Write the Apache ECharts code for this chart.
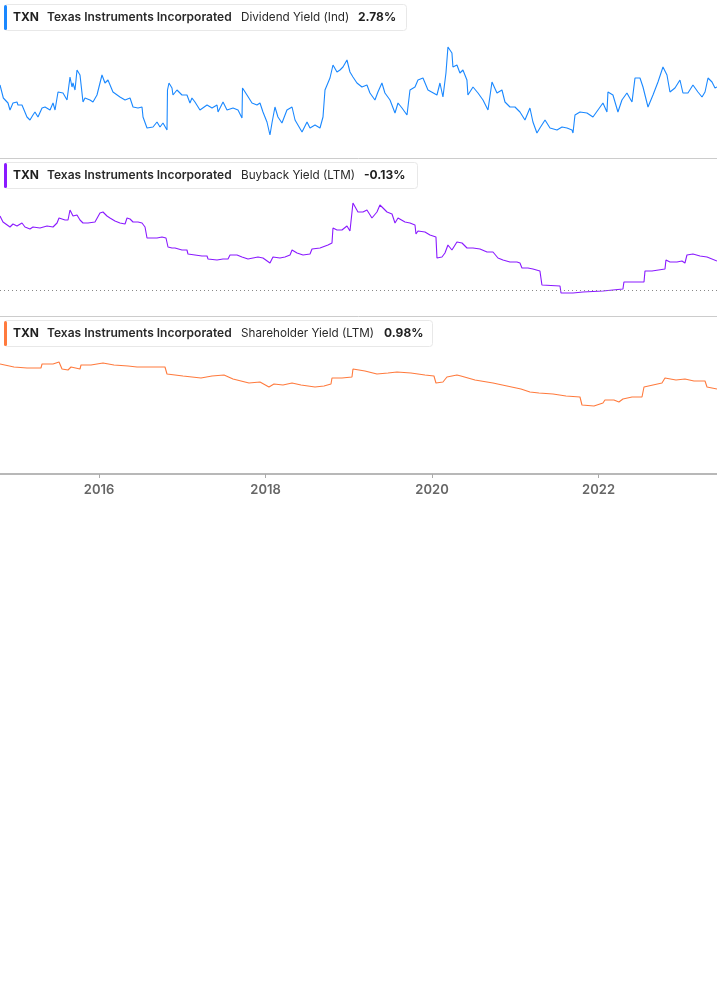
<!DOCTYPE html>
<html>
<head>
<meta charset="utf-8">
<script src="https://cdn.jsdelivr.net/npm/echarts@6/dist/echarts.min.js"></script>
<style>
html,body{margin:0;padding:0;background:#fff;}
#chart{width:717px;height:1005px;}
</style>
</head>
<body>
<div id="chart"></div>
<script>
// Decimal-year x values, yield (%) values
const tickYears = [2016, 2018, 2020, 2022];

const dividendYield = [
[2014.810,3.10],[2014.850,2.84],[2014.906,2.74],[2014.930,2.60],[2014.966,2.74],[2015.014,2.76],[2015.026,2.70],[2015.074,2.70],
[2015.134,2.46],[2015.170,2.40],[2015.206,2.50],[2015.230,2.56],[2015.266,2.46],[2015.315,2.64],[2015.351,2.66],[2015.411,2.60],
[2015.447,2.74],[2015.471,2.60],[2015.507,2.96],[2015.567,2.94],[2015.615,2.80],[2015.651,3.26],[2015.675,3.06],[2015.687,3.14],
[2015.711,3.00],[2015.735,3.40],[2015.771,3.30],[2015.807,2.76],[2015.831,2.84],[2015.891,2.80],[2015.927,2.76],[2015.975,2.90],
[2015.999,2.86],[2016.035,3.30],[2016.071,3.14],[2016.107,3.20],[2016.167,2.96],[2016.251,2.86],[2016.312,2.80],[2016.372,2.84],
[2016.408,2.66],[2016.468,2.64],[2016.516,2.66],[2016.528,2.46],[2016.576,2.24],[2016.648,2.26],[2016.696,2.36],[2016.732,2.26],
[2016.768,2.34],[2016.816,2.20],[2016.822,3.00],[2016.840,3.14],[2016.876,3.04],[2016.888,2.90],[2016.936,3.00],[2016.996,2.90],
[2017.056,2.90],[2017.092,2.74],[2017.116,2.84],[2017.152,2.76],[2017.212,2.60],[2017.297,2.70],[2017.357,2.64],[2017.417,2.70],
[2017.429,2.56],[2017.489,2.76],[2017.537,2.60],[2017.609,2.64],[2017.669,2.60],[2017.717,2.44],[2017.723,3.04],[2017.777,2.90],
[2017.837,2.74],[2017.897,2.70],[2017.933,2.74],[2017.969,2.56],[2018.017,2.36],[2018.053,2.10],[2018.077,2.34],[2018.113,2.66],
[2018.149,2.46],[2018.197,2.34],[2018.257,2.60],[2018.318,2.66],[2018.354,2.40],[2018.438,2.16],[2018.498,2.36],[2018.534,2.24],
[2018.594,2.30],[2018.654,2.24],[2018.690,2.46],[2018.714,3.00],[2018.774,3.24],[2018.810,3.50],[2018.858,3.36],[2018.894,3.40],
[2018.930,3.46],[2018.978,3.60],[2019.014,3.36],[2019.050,3.26],[2019.098,3.14],[2019.158,3.06],[2019.218,3.10],[2019.254,2.94],
[2019.314,2.80],[2019.350,2.96],[2019.398,3.14],[2019.434,2.94],[2019.495,2.80],[2019.555,2.54],[2019.591,2.74],[2019.639,2.64],
[2019.699,2.50],[2019.735,3.00],[2019.795,3.06],[2019.831,3.20],[2019.891,3.24],[2019.951,3.00],[2020.059,2.90],[2020.095,3.14],
[2020.131,2.86],[2020.167,3.34],[2020.191,3.86],[2020.239,3.74],[2020.251,3.46],[2020.299,3.50],[2020.335,3.34],[2020.371,3.40],
[2020.419,3.20],[2020.431,2.90],[2020.492,3.06],[2020.552,2.94],[2020.612,2.80],[2020.672,2.60],[2020.720,3.16],[2020.780,2.94],
[2020.840,3.00],[2020.876,2.76],[2020.936,2.66],[2020.996,2.66],[2021.056,2.56],[2021.116,2.40],[2021.176,2.64],[2021.212,2.36],
[2021.260,2.14],[2021.296,2.24],[2021.357,2.40],[2021.417,2.24],[2021.501,2.20],[2021.561,2.26],[2021.621,2.24],[2021.681,2.20],
[2021.693,2.14],[2021.717,2.50],[2021.777,2.56],[2021.861,2.54],[2021.933,2.46],[2021.993,2.60],[2022.053,2.74],[2022.101,2.56],
[2022.113,2.96],[2022.173,2.90],[2022.233,2.56],[2022.281,2.80],[2022.341,2.94],[2022.402,2.76],[2022.438,3.24],[2022.498,3.24],
[2022.534,3.06],[2022.594,2.66],[2022.654,2.90],[2022.714,3.16],[2022.774,3.46],[2022.822,3.30],[2022.858,2.96],[2022.918,3.04],
[2022.978,3.20],[2023.014,2.94],[2023.074,2.94],[2023.134,3.10],[2023.194,2.96],[2023.243,2.86],[2023.279,2.96],[2023.315,3.24],
[2023.363,3.16],[2023.399,3.04],[2023.423,3.06]
];

const buybackYield = [
[2014.810,3.70],[2014.846,3.40],[2014.930,3.15],[2014.966,3.30],[2015.014,3.20],[2015.074,3.35],[2015.110,3.15],[2015.170,3.05],
[2015.206,3.15],[2015.290,3.10],[2015.375,3.20],[2015.447,3.15],[2015.495,3.35],[2015.519,3.60],[2015.591,3.50],[2015.627,3.50],
[2015.651,4.00],[2015.687,3.70],[2015.735,3.75],[2015.771,3.50],[2015.807,3.35],[2015.867,3.35],[2015.951,3.40],[2016.011,3.85],
[2016.047,3.90],[2016.095,3.70],[2016.131,3.60],[2016.191,3.45],[2016.251,3.35],[2016.312,3.30],[2016.336,3.60],[2016.372,3.55],
[2016.408,3.40],[2016.468,3.40],[2016.516,3.35],[2016.552,3.15],[2016.576,2.60],[2016.696,2.60],[2016.756,2.65],[2016.804,2.60],
[2016.828,2.15],[2016.876,2.10],[2016.912,2.10],[2016.996,2.00],[2017.056,2.00],[2017.068,1.80],[2017.152,1.75],[2017.236,1.70],
[2017.297,1.70],[2017.309,1.55],[2017.417,1.50],[2017.489,1.55],[2017.549,1.55],[2017.573,1.75],[2017.657,1.75],[2017.717,1.65],
[2017.789,1.55],[2017.813,1.65],[2017.909,1.65],[2017.969,1.60],[2018.053,1.35],[2018.089,1.65],[2018.173,1.60],[2018.233,1.65],
[2018.294,1.75],[2018.318,2.00],[2018.378,1.85],[2018.450,1.75],[2018.534,1.80],[2018.558,2.05],[2018.654,2.10],[2018.750,2.25],
[2018.798,2.35],[2018.810,3.10],[2018.858,3.00],[2018.918,3.00],[2018.978,3.20],[2019.014,2.95],[2019.038,2.90],[2019.050,4.35],
[2019.110,3.90],[2019.170,3.90],[2019.218,4.00],[2019.278,3.60],[2019.338,3.90],[2019.374,4.25],[2019.411,4.10],[2019.459,3.90],
[2019.519,3.80],[2019.555,3.35],[2019.591,3.60],[2019.675,3.40],[2019.735,3.35],[2019.795,3.25],[2019.807,2.80],[2019.831,2.95],
[2019.915,2.90],[2019.975,2.75],[2020.047,2.65],[2020.059,1.60],[2020.119,1.65],[2020.155,1.85],[2020.191,2.25],[2020.239,2.00],
[2020.251,1.90],[2020.299,2.40],[2020.360,2.35],[2020.420,2.10],[2020.492,2.10],[2020.576,2.05],[2020.660,1.90],[2020.732,1.90],
[2020.792,1.60],[2020.852,1.50],[2020.936,1.40],[2021.020,1.40],[2021.056,1.35],[2021.080,1.10],[2021.152,1.10],[2021.212,1.05],
[2021.296,0.95],[2021.320,0.25],[2021.537,0.20],[2021.549,-0.15],[2021.693,-0.15],[2021.813,-0.10],[2022.053,-0.05],[2022.065,0.05],
[2022.293,0.05],[2022.305,0.40],[2022.546,0.40],[2022.558,0.95],[2022.642,0.95],[2022.798,1.05],[2022.810,1.50],[2022.858,1.40],
[2022.942,1.40],[2023.002,1.45],[2023.038,1.35],[2023.062,1.75],[2023.134,1.80],[2023.219,1.70],[2023.303,1.65],[2023.315,1.55],
[2023.423,1.45]
];

const shareholderYield = [
[2014.810,5.50],[2014.978,5.35],[2015.134,5.30],[2015.302,5.30],[2015.315,5.50],[2015.447,5.50],[2015.519,5.60],[2015.555,5.25],
[2015.627,5.20],[2015.663,5.35],[2015.771,5.25],[2015.783,5.45],[2015.903,5.45],[2016.047,5.55],[2016.179,5.45],[2016.348,5.40],
[2016.456,5.35],[2016.564,5.35],[2016.708,5.35],[2016.792,5.35],[2016.816,5.00],[2017.008,4.90],[2017.224,4.80],[2017.357,4.90],
[2017.501,4.95],[2017.609,4.75],[2017.801,4.55],[2017.933,4.60],[2018.041,4.35],[2018.101,4.50],[2018.209,4.45],[2018.318,4.55],
[2018.426,4.45],[2018.594,4.35],[2018.702,4.40],[2018.786,4.50],[2018.798,4.80],[2018.918,4.80],[2019.038,4.85],[2019.050,5.25],
[2019.194,5.15],[2019.338,5.00],[2019.471,5.05],[2019.579,5.10],[2019.747,5.05],[2019.915,4.95],[2020.023,4.90],[2020.047,4.55],
[2020.131,4.60],[2020.179,4.85],[2020.239,4.90],[2020.299,4.95],[2020.347,4.90],[2020.516,4.70],[2020.732,4.55],[2020.900,4.40],
[2021.068,4.25],[2021.176,4.10],[2021.284,4.05],[2021.453,4.00],[2021.609,3.90],[2021.777,3.85],[2021.801,3.45],[2021.945,3.40],
[2022.053,3.55],[2022.077,3.70],[2022.185,3.70],[2022.245,3.60],[2022.293,3.75],[2022.402,3.85],[2022.522,3.85],[2022.546,4.35],
[2022.654,4.45],[2022.762,4.55],[2022.798,4.80],[2022.930,4.70],[2023.038,4.75],[2023.146,4.65],[2023.279,4.65],[2023.303,4.35],
[2023.423,4.25]
];

const ticker = 'TXN';
const company = 'Texas Instruments Incorporated';
const metricNames = ['Dividend Yield (Ind)', 'Buyback Yield (LTM)', 'Shareholder Yield (LTM)'];
const metricValues = ['2.78%', '-0.13%', '0.98%'];
const colors = ['#1a88ff', '#8a1aff', '#ff7a3d'];

const FONT = 'Inter, Roboto, "Noto Sans", sans-serif';
const X_MIN = 2014.81, X_MAX = 2023.423;

const chart = echarts.init(document.getElementById('chart'), null, {renderer: 'canvas'});

function legendBox(top, width, idx, valueX) {
  const cy = top + 13;
  const txt = (x, s, w, c, fs) => ({type: 'text', x: x, y: cy, silent: true,
    style: {text: s, font: w + ' ' + (fs || 12) + 'px ' + FONT, fill: c || '#1f1f1f', textVerticalAlign: 'middle', textBaseline: 'middle'}});
  return [
    {type: 'rect', shape: {x: 4.5, y: top + 0.5, width: width, height: 26, r: 3}, silent: true,
      style: {fill: '#fff', stroke: '#e8e8e8', lineWidth: 1}},
    {type: 'rect', shape: {x: 4, y: top + 1, width: 3, height: 25, r: 1.5}, silent: true, style: {fill: colors[idx]}},
    txt(13, ticker, '700'),
    txt(47, company, '600', '#2a2a2a'),
    txt(241, metricNames[idx], '400', '#2a2a2a', 11.7),
    txt(valueX, metricValues[idx], '700')
  ];
}

const grids = [
  {left: 0, right: 0, top: 30, height: 128},
  {left: 0, right: 0, top: 190, height: 126},
  {left: 0, right: 0, top: 348, height: 126}
];

const xAxes = grids.map((g, i) => ({
  type: 'value', gridIndex: i, min: X_MIN, max: X_MAX,
  axisLine: {show: true, onZero: false, lineStyle: {color: i === 2 ? '#b8b8b8' : '#cccccc', width: i === 2 ? 2 : 1}},
  axisTick: i === 2 ? {show: true, customValues: tickYears, length: 4, lineStyle: {color: '#aaaaaa', width: 1}} : {show: false},
  axisLabel: i === 2 ? {show: true, customValues: tickYears, formatter: v => String(Math.round(v)),
    color: '#666666', fontSize: 13, fontWeight: 600, fontFamily: FONT, margin: 10} : {show: false},
  splitLine: {show: false}
}));

const yRanges = [[1.64, 4.2], [-1.3, 5.0], [0, 6.3]];
const yAxes = yRanges.map((r, i) => ({
  type: 'value', gridIndex: i, min: r[0], max: r[1], show: false,
  splitLine: {show: false}
}));

const datasets = [dividendYield, buybackYield, shareholderYield];
const series = datasets.map((d, i) => ({
  type: 'line', xAxisIndex: i, yAxisIndex: i, data: d, showSymbol: false, symbol: 'none',
  lineStyle: {color: colors[i], width: 1.1}, itemStyle: {color: colors[i]}, animation: false,
  markLine: i === 1 ? {silent: true, symbol: 'none', label: {show: false}, animation: false,
    lineStyle: {color: '#888888', type: [1, 3], width: 1}, data: [{yAxis: 0}]} : undefined
}));

chart.setOption({
  animation: false,
  backgroundColor: '#ffffff',
  grid: grids,
  xAxis: xAxes,
  yAxis: yAxes,
  series: series,
  graphic: [].concat(
    legendBox(4, 402, 0, 358),
    legendBox(162, 413, 1, 364),
    legendBox(320, 428, 2, 384)
  )
});
</script>
</body>
</html>
